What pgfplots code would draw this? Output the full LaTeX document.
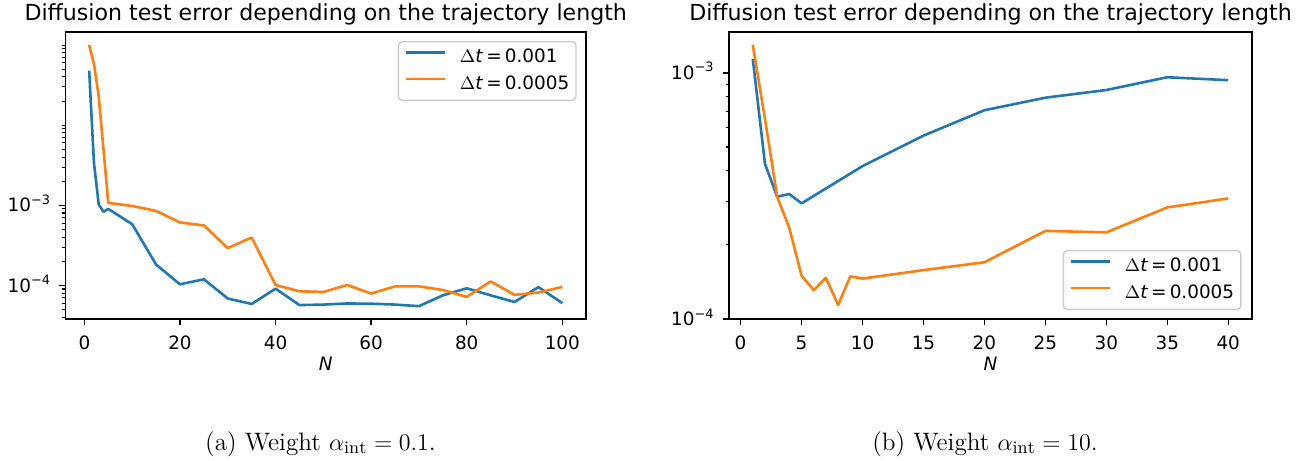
\documentclass[border=0pt]{standalone}
\usepackage{fontspec}
\usepackage{pgfplots}
\pgfplotsset{compat=1.18}
\newfontfamily\dejavu{DejaVu Sans}
\definecolor{tabblue}{HTML}{1F77B4}
\definecolor{taborange}{HTML}{FF7F0E}

% one px of the reference = 0.5pt
\pgfplotsset{
  diffplot/.style={
    scale only axis,
    height=143.5pt,
    axis line style={line width=0.69pt},
    tick align=outside,
    xtick pos=lower, ytick pos=left,
    major tick length=3pt, minor tick length=1.75pt,
    every major tick/.append style={line width=0.69pt, black},
    every minor tick/.append style={line width=0.52pt, black},
    tick label style={font=\dejavu\fontsize{9.2}{11}\selectfont},
    xticklabel style={anchor=north, inner sep=0pt},
    xticklabel shift=5.25pt,
    yticklabel style={anchor=base east, inner sep=0pt, yshift=-3.35pt},
    yticklabel shift=4pt,
    title={Diffusion test error depending on the trajectory length},
    every axis title shift=0pt,
    title style={font=\dejavu\fontsize{11.06}{13}\selectfont, at={(0.5,1)}, anchor=base, inner sep=0pt, yshift=5.65pt},
    xlabel={\textit{N}},
    xlabel style={font=\dejavu\fontsize{9.2}{11}\selectfont, at={(axis description cs:0.5,0)}, anchor=base, inner sep=0pt, yshift=-25.5pt},
    legend style={font=\dejavu\fontsize{9.2}{11}\selectfont, draw=black!20, line width=0.69pt,
      rounded corners=2pt, fill=white, fill opacity=0.8, text opacity=1,
      inner xsep=3.35pt, inner ysep=4pt, row sep=5pt,
      nodes={inner sep=0pt, text height=6.6pt, text depth=1.6pt},
      /tikz/every odd column/.append style={column sep=6.65pt}},
    legend cell align=left,
    legend image code/.code={\draw[#1, line width=1.3pt] (0pt,2.6pt) -- (19.5pt,2.6pt);},
    every axis plot/.append style={line width=1.3pt, line join=round},
  },
}

\begin{document}
\begin{tikzpicture}
\path[use as bounding box] (0,0) rectangle (657.5pt,230pt);

% (a) alpha_int = 0.1
\begin{axis}[ymode=log, diffplot,
  /pgf/number format/assume math mode=true,
  at={(32.75pt,70.5pt)}, anchor=south west,
  width=260.25pt,
  xmin=-3.95, xmax=104.95,
  ymin=3.8e-5, ymax=0.1456,
  xtick={0,20,40,60,80,100},
  ytick={1e-4,1e-3},
  yticklabels={10\textsuperscript{−4},10\textsuperscript{−3}},
  minor ytick={4e-5,5e-5,6e-5,7e-5,8e-5,9e-5,
    2e-4,3e-4,4e-4,5e-4,6e-4,7e-4,8e-4,9e-4,
    2e-3,3e-3,4e-3,5e-3,6e-3,7e-3,8e-3,9e-3,
    1e-2,2e-2,3e-2,4e-2,5e-2,6e-2,7e-2,8e-2,9e-2,1e-1},
  legend style={at={(0.982,0.969)}, anchor=north east},
]
\addplot[tabblue] coordinates {
  (1,0.048) (2,0.0034) (3,0.00102) (4,0.00083) (5,0.0009) (10,0.00058)
  (15,0.000182) (20,0.000103) (25,0.000119) (30,6.85e-5) (35,5.85e-5)
  (40,9.1e-5) (45,5.67e-5) (50,5.75e-5) (55,5.94e-5) (60,5.9e-5)
  (65,5.75e-5) (70,5.5e-5) (75,7.5e-5) (80,9.2e-5) (85,7.5e-5)
  (90,6.2e-5) (95,9.5e-5) (100,6.0e-5)
};
\addplot[taborange] coordinates {
  (1,0.1) (2,0.058) (3,0.023) (5,0.00107) (10,0.00098)
  (15,0.00085) (20,0.00061) (25,0.00056) (30,0.000292) (35,0.000395)
  (40,0.000101) (45,8.43e-5) (50,8.27e-5) (55,0.000101) (60,7.9e-5)
  (65,9.7e-5) (70,9.7e-5) (75,8.75e-5) (80,7.18e-5) (85,0.000112)
  (90,7.6e-5) (95,8.13e-5) (100,9.55e-5)
};
\legend{$\Delta$\textit{t}\hspace{0.17em}=\hspace{0.17em}0.001\hspace{2.15pt},
        $\Delta$\textit{t}\hspace{0.17em}=\hspace{0.17em}0.0005\hspace{2.15pt}}
\end{axis}

% (b) alpha_int = 10
\begin{axis}[ymode=log, diffplot,
  /pgf/number format/assume math mode=true,
  at={(364.5pt,70.5pt)}, anchor=south west,
  width=261.5pt,
  xmin=-0.95, xmax=41.95,
  ymin=1e-4, ymax=1.466e-3,
  xtick={0,5,10,15,20,25,30,35,40},
  ytick={1e-4,1e-3},
  yticklabels={10\textsuperscript{−4},10\textsuperscript{−3}},
  minor ytick={2e-4,3e-4,4e-4,5e-4,6e-4,7e-4,8e-4,9e-4},
  legend style={at={(0.980,0.031)}, anchor=south east},
]
\addplot[tabblue] coordinates {
  (1,1.14e-3) (2,4.27e-4) (3,3.14e-4) (4,3.22e-4) (5,2.95e-4) (10,4.18e-4)
  (15,5.56e-4) (20,7.05e-4) (25,7.93e-4) (30,8.52e-4) (35,9.6e-4) (40,9.34e-4)
};
\addplot[taborange] coordinates {
  (1,1.3e-3) (2,6.5e-4) (3,3.14e-4) (4,2.34e-4) (5,1.5e-4) (6,1.31e-4)
  (7,1.47e-4) (8,1.14e-4) (9,1.49e-4) (10,1.46e-4) (15,1.58e-4) (20,1.70e-4)
  (25,2.28e-4) (30,2.25e-4) (35,2.84e-4) (40,3.09e-4)
};
\legend{$\Delta$\textit{t}\hspace{0.17em}=\hspace{0.17em}0.001\hspace{2.15pt},
        $\Delta$\textit{t}\hspace{0.17em}=\hspace{0.17em}0.0005\hspace{2.15pt}}
\end{axis}

\node[anchor=base, font=\fontsize{12.6}{15}\selectfont] at (160.25pt,5pt)
  {(a) Weight $\alpha_{\mathrm{int}} = 0.1$.};
\node[anchor=base, font=\fontsize{12.6}{15}\selectfont] at (492.5pt,5pt)
  {(b) Weight $\alpha_{\mathrm{int}} = 10$.};
\end{tikzpicture}
\end{document}
